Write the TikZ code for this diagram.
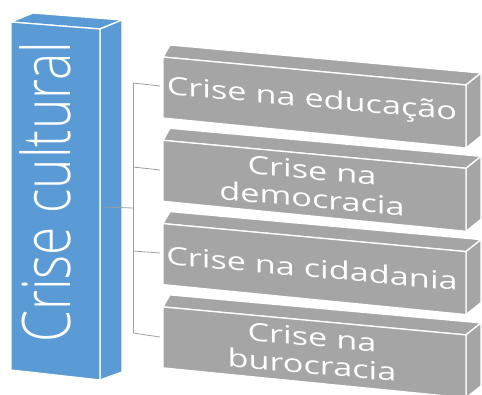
\documentclass[tikz,border=0pt]{standalone}
\usepackage{fontspec}
\setmainfont{Open Sans}
\newfontfamily\lightfont{Open Sans Light}
\definecolor{cblue}{HTML}{5B9BD5}
\definecolor{cgray}{HTML}{A5A5A5}
\definecolor{cline}{HTML}{9E9E9E}
\newcommand{\wtxt}[1]{\scalebox{1.37}[1]{#1}}
\begin{document}
\begin{tikzpicture}[x=1pt,y=-1pt,
  face/.style={draw=white, line width=1.3pt, line join=round},
  btext/.style={text=white, align=center, inner sep=0pt, yslant=-0.09,
    font=\fontsize{25}{28}\selectfont},
  conn/.style={draw=cline, line width=0.8pt}]
\useasboundingbox (0,0) rectangle (482,394);
% blue box
\path[face, fill=cblue] (11,22) -- (33,13) -- (122,20) -- (100,29) -- cycle;
\path[face, fill=cblue] (100,29) -- (122,20) -- (122,372) -- (100,380) -- cycle;
\path[face, fill=cblue] (11,22) -- (100,29) -- (100,380) -- (11,370) -- cycle;
\node[rotate=90, anchor=base west, text=white, inner sep=0pt,
  font=\lightfont\fontsize{50}{50}\selectfont] (cc) at (70,343)
  {\scalebox{1.03}[1.34]{Crise cultural}};
% gray boxes
\foreach \i in {0,1,2,3}{
  \pgfmathsetmacro{\d}{83.3*\i}
  \path[face, fill=cgray] (163,57+\d) -- (170,45+\d) -- (481,73+\d) -- (466,85+\d) -- cycle;
  \path[face, fill=cgray] (466,85+\d) -- (481,73+\d) -- (481,136+\d) -- (466,148+\d) -- cycle;
  \path[face, fill=cgray] (163,57+\d) -- (466,85+\d) -- (466,148+\d) -- (163,118+\d) -- cycle;
}
\node[btext] (t1) at (312,101) {\wtxt{Crise na educação}};
\node[btext] (t2) at (312,184.5) {\wtxt{Crise na}\\\wtxt{democracia}};
\node[btext] (t3) at (312,268) {\wtxt{Crise na cidadania}};
\node[btext] (t4) at (312,351) {\wtxt{Crise na}\\\wtxt{burocracia}};
% connectors
\coordinate (root) at (103,207);
\coordinate (hub) at (133,208);
\coordinate (top) at (133,83);
\coordinate (bot) at (133,333);
\coordinate (h2) at (133,167);
\coordinate (h3) at (133,251);
\coordinate (e1) at (160,86);
\coordinate (e2) at (160,170);
\coordinate (e3) at (160,253);
\coordinate (e4) at (160,337);
\draw[conn] (root) -- (hub);
\draw[conn] (top) -- (bot);
\draw[conn] (top) -- (e1);
\draw[conn] (h2) -- (e2);
\draw[conn] (h3) -- (e3);
\draw[conn] (bot) -- (e4);
\end{tikzpicture}
\end{document}
